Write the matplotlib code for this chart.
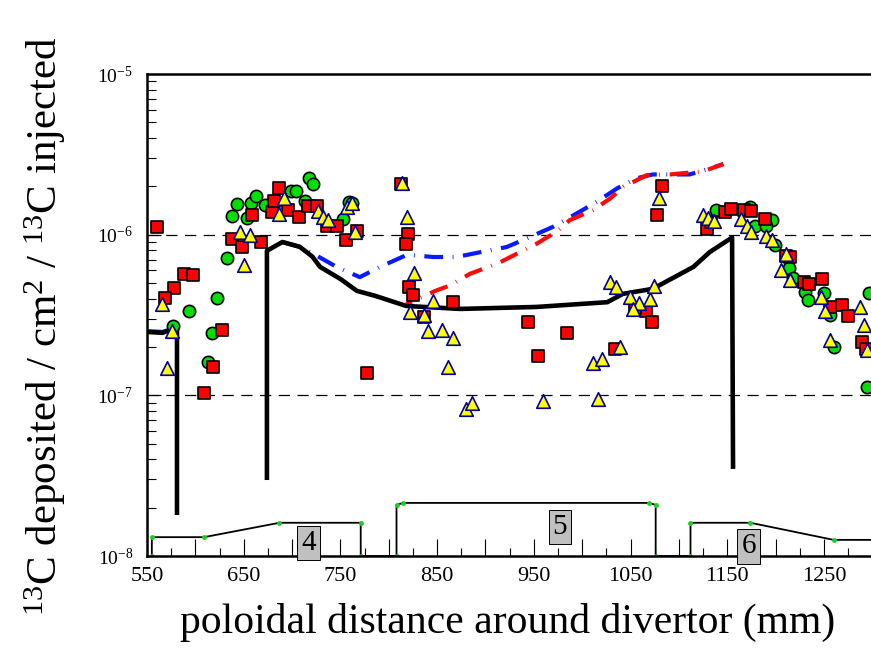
import matplotlib
matplotlib.use("Agg")
import matplotlib.pyplot as plt
from matplotlib.ticker import FixedLocator, LogLocator, NullFormatter, FuncFormatter

plt.rcParams['font.family'] = ['Liberation Serif', 'DejaVu Serif']
plt.rcParams['mathtext.fontset'] = 'custom'
plt.rcParams['mathtext.rm'] = 'Liberation Serif'
plt.rcParams['mathtext.it'] = 'Liberation Serif:italic'
plt.rcParams['axes.unicode_minus'] = False

# --- model curves ---
black_left_x = [550, 566, 577, 581, 581]
black_left_y = [2.48e-7, 2.45e-7, 2.58e-7, 2.58e-7, 1.86e-8]
black_x = [674, 674, 690, 708, 721, 729, 750, 767, 786, 818, 874, 953, 1026, 1042,
           1073, 1115, 1132, 1155, 1156]
black_y = [3.07e-8, 7.94e-7, 9.0e-7, 8.4e-7, 7.3e-7, 6.3e-7, 5.3e-7, 4.47e-7, 4.16e-7,
           3.6e-7, 3.45e-7, 3.55e-7, 3.8e-7, 4.28e-7, 4.6e-7, 6.3e-7, 7.8e-7, 9.6e-7, 3.6e-8]

blue_left_x = [550, 566, 577]
blue_left_y = [2.51e-7, 2.48e-7, 2.6e-7]
blue_x = [690, 708, 725, 746, 770, 791, 819, 846, 870, 897, 922, 946, 970, 991, 1015,
          1036, 1056, 1073, 1091, 1111, 1132, 1146]
blue_y = [9.0e-7, 8.4e-7, 7.43e-7, 6.3e-7, 5.44e-7, 6.3e-7, 7.5e-7, 7.26e-7, 7.26e-7,
          7.83e-7, 8.38e-7, 9.67e-7, 1.12e-6, 1.32e-6, 1.6e-6, 1.94e-6, 2.24e-6, 2.37e-6,
          2.37e-6, 2.37e-6, 2.58e-6, 2.75e-6]

red_x = [818, 849, 863, 884, 912, 936, 953, 974, 987, 1011, 1029, 1043, 1067, 1091, 1125, 1146]
red_y = [3.7e-7, 4.49e-7, 4.82e-7, 5.71e-7, 6.59e-7, 7.8e-7, 8.79e-7, 1.05e-6, 1.23e-6,
         1.42e-6, 1.68e-6, 1.99e-6, 2.35e-6, 2.37e-6, 2.48e-6, 2.75e-6]

# --- measurements ---
sq_x = [560, 588, 598, 638, 648, 668, 659, 679, 681, 686, 696, 707, 716, 726, 736, 746,
        756, 767, 578, 569, 628, 618, 609, 777, 813, 820, 818, 821, 825, 836, 866, 944,
        984, 954, 1034, 1066, 1072, 1055, 1083, 1077, 1129, 1133, 1148, 1154, 1167, 1175,
        1189, 1211, 1215, 1229, 1235, 1248, 1256, 1269, 1275, 1289, 1294]
sq_y = [1.11e-6, 5.7e-7, 5.62e-7, 9.44e-7, 8.41e-7, 9.04e-7, 1.33e-6, 1.39e-6, 1.63e-6,
        1.94e-6, 1.42e-6, 1.28e-6, 1.5e-6, 1.5e-6, 1.14e-6, 1.14e-6, 9.2e-7, 1.05e-6,
        4.66e-7, 4.04e-7, 2.55e-7, 1.51e-7, 1.03e-7, 1.37e-7, 2.08e-6, 1.015e-6, 8.79e-7,
        4.7e-7, 4.22e-7, 3.07e-7, 3.81e-7, 2.88e-7, 2.46e-7, 1.76e-7, 1.94e-7, 3.33e-7,
        2.88e-7, 3.5e-7, 2.02e-6, 1.33e-6, 1.09e-6, 1.2e-6, 1.39e-6, 1.45e-6, 1.43e-6,
        1.4e-6, 1.25e-6, 7.39e-7, 7.3e-7, 5.08e-7, 4.94e-7, 5.28e-7, 3.57e-7, 3.65e-7,
        3.12e-7, 2.14e-7, 1.94e-7]

circ_x = [633, 622, 593, 577, 617, 613, 638, 643, 653, 658, 663, 672, 699, 704, 718, 722,
          713, 753, 759, 762, 1138, 1174, 1179, 1196, 1190, 1199, 1214, 1218, 1230, 1234,
          1250, 1256, 1260, 1297, 1295]
circ_y = [7.2e-7, 4.04e-7, 3.33e-7, 2.71e-7, 2.44e-7, 1.62e-7, 1.31e-6, 1.55e-6, 1.27e-6,
          1.57e-6, 1.74e-6, 1.54e-6, 1.88e-6, 1.86e-6, 2.24e-6, 2.07e-6, 1.63e-6, 1.26e-6,
          1.59e-6, 1.58e-6, 1.43e-6, 1.49e-6, 1.14e-6, 1.23e-6, 1.14e-6, 8.6e-7, 6.2e-7,
          5.4e-7, 4.4e-7, 3.9e-7, 4.34e-7, 3.16e-7, 1.99e-7, 4.34e-7, 1.13e-7]

tri_x = [565, 576, 571, 650, 646, 656, 692, 687, 727, 732, 737, 757, 762, 765, 814, 819,
         826, 846, 822, 836, 841, 855, 866, 861, 880, 886, 960, 1016, 1011, 1021, 1039,
         1029, 1035, 1049, 1059, 1053, 1070, 1074, 1079, 1125, 1130, 1136, 1164, 1170,
         1175, 1190, 1196, 1211, 1206, 1215, 1247, 1251, 1256, 1287, 1291, 1295]
tri_y = [3.7e-7, 2.5e-7, 1.49e-7, 6.45e-7, 1.04e-6, 9.9e-7, 1.7e-6, 1.34e-6, 1.4e-6,
         1.29e-6, 1.24e-6, 1.48e-6, 1.57e-6, 1.045e-6, 2.11e-6, 1.28e-6, 5.8e-7, 3.86e-7,
         3.3e-7, 3.17e-7, 2.53e-7, 2.55e-7, 2.29e-7, 1.5e-7, 8.26e-8, 9.0e-8, 9.2e-8,
         9.53e-8, 1.6e-7, 1.68e-7, 1.99e-7, 5.1e-7, 4.7e-7, 4.08e-7, 3.76e-7, 3.45e-7,
         3.98e-7, 4.8e-7, 1.7e-6, 1.33e-6, 1.27e-6, 1.21e-6, 1.26e-6, 1.13e-6, 1.045e-6,
         9.8e-7, 9.3e-7, 7.55e-7, 6.03e-7, 5.2e-7, 4.09e-7, 3.35e-7, 2.21e-7, 3.53e-7,
         2.74e-7, 1.91e-7]

# --- divertor tile outline ---
tile_x = [555, 555, 609, 687, 771, 771, 808, 808, 815, 1069, 1076, 1076, 1112, 1112, 1174, 1260, 1305]
tile_y = [1.0e-8, 1.31e-8, 1.31e-8, 1.61e-8, 1.61e-8, 1.0e-8, 1.0e-8, 2.08e-8, 2.14e-8,
          2.14e-8, 2.08e-8, 1.0e-8, 1.0e-8, 1.61e-8, 1.61e-8, 1.26e-8, 1.26e-8]
tile_names = ["4", "5", "6"]
tile_label_x = [717, 977, 1172]
tile_label_y = [1.21e-8, 1.51e-8, 1.146e-8]

fig = plt.figure(figsize=(8.71, 6.52), dpi=100)
ax = fig.add_axes([147 / 871, 96 / 652, 725.3 / 871, 482 / 652])
ax.set_yscale('log')
ax.set_xlim(550, 1300)
ax.set_ylim(1e-8, 1e-5)

for v in [1e-6, 1e-7]:
    ax.axhline(v, color='black', lw=0.9, ls=(0, (9, 6)), zorder=1)

ax.plot(tile_x, tile_y, color='black', lw=1.3, zorder=2)
ax.plot(tile_x[:-1], tile_y[:-1], ls='none', marker='o', ms=2.5, color='#22cc22', zorder=2)
for name, tx, ty in zip(tile_names, tile_label_x, tile_label_y):
    ax.text(tx, ty, name, fontsize=21, ha='center', va='center', zorder=3, clip_on=False,
            bbox=dict(boxstyle='square,pad=0.14', fc='#c0c0c0', ec='black', lw=0.7))

dash = (4.5, 2.3, 0.2, 2.3)
ax.plot(black_left_x, black_left_y, color='black', lw=3.3, zorder=4)
ax.plot(blue_left_x, blue_left_y, color='#0a1aff', lw=3.0, zorder=3)
ax.plot(blue_x, blue_y, color='#0a1aff', lw=3.0, ls=(0, dash), zorder=3)
ax.plot(red_x, red_y, color='#ff0a0a', lw=3.0, ls=(3, dash), zorder=3.5)
ax.plot(black_x, black_y, color='black', lw=3.3, zorder=4)

ax.scatter(circ_x, circ_y, s=78, marker='o', c='#00e000', edgecolors='black', linewidths=1.2, zorder=5)
ax.scatter(sq_x, sq_y, s=78, marker='s', c='#ff0000', edgecolors='black', linewidths=1.2, zorder=6)
ax.scatter(tri_x, tri_y, s=95, marker='^', c='#ffff00', edgecolors='#0000a0', linewidths=1.2, zorder=7)

# axes styling
for side in ['top', 'left', 'bottom']:
    ax.spines[side].set_linewidth(1.8)
ax.spines['right'].set_visible(False)

ax.xaxis.set_major_locator(FixedLocator(list(range(550, 1301, 50))))
ax.xaxis.set_minor_locator(FixedLocator(list(range(575, 1301, 50))))
ax.xaxis.set_major_formatter(FuncFormatter(lambda v, p: '%d' % v if (v - 550) % 100 == 0 else ''))
ax.yaxis.set_major_locator(LogLocator(base=10, numticks=10))
ax.yaxis.set_minor_locator(LogLocator(base=10, subs=range(2, 10), numticks=20))
ax.yaxis.set_minor_formatter(NullFormatter())

ax.tick_params(axis='x', which='major', direction='in', length=12, width=0.8, labelsize=16, pad=8)
ax.tick_params(axis='x', which='minor', direction='in', length=6, width=0.8)
ax.tick_params(axis='y', which='major', direction='in', length=10, width=0.8, labelsize=14, pad=10)
ax.tick_params(axis='y', which='minor', direction='in', length=6.5, width=0.8)
ax.tick_params(top=False, right=False)

fig.text(508 / 871, 0.045, 'poloidal distance around divertor (mm)', fontsize=30,
         ha='center', va='center')
fig.text(45 / 871, 0.5, '$^{13}$C deposited / cm$^{2}$ / $^{13}$C injected', fontsize=31,
         rotation=90, ha='center', va='center')

fig.savefig('out.png', dpi=100)
